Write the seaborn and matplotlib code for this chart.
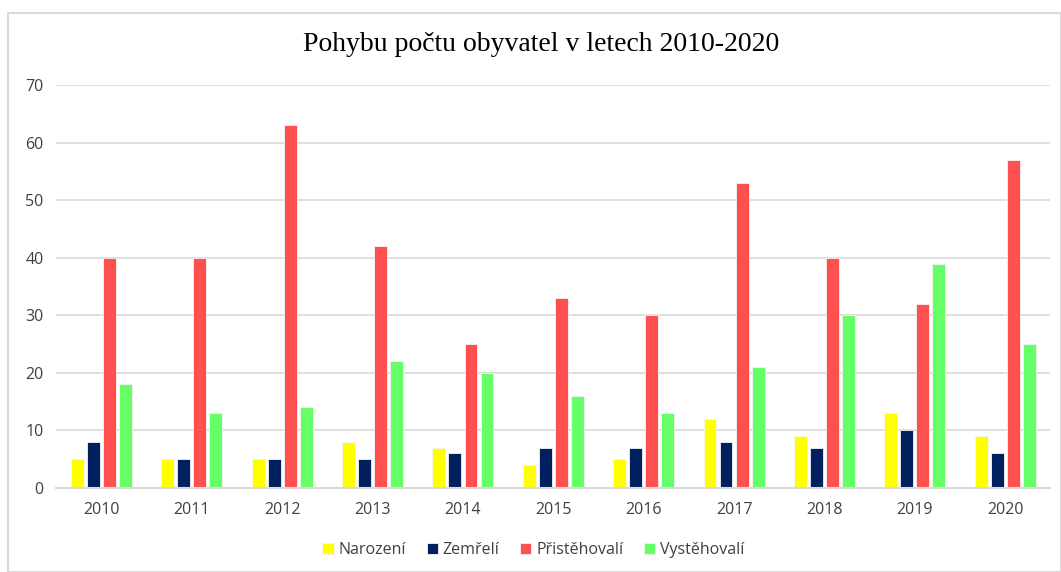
import pandas as pd
import matplotlib.pyplot as plt
import seaborn as sns
from matplotlib.patches import Rectangle

# data
years = ['2010', '2011', '2012', '2013', '2014', '2015', '2016', '2017', '2018', '2019', '2020']
narozeni = [5, 5, 5, 8, 7, 4, 5, 12, 9, 13, 9]
zemreli = [8, 5, 5, 5, 6, 7, 7, 8, 7, 10, 6]
pristehovali = [40, 40, 63, 42, 25, 33, 30, 53, 40, 32, 57]
vystehovali = [18, 13, 14, 22, 20, 16, 13, 21, 30, 39, 25]

series = ['Narození', 'Zemřelí', 'Přistěhovalí', 'Vystěhovalí']
colors = ['#FFFF00', '#002060', '#FF5050', '#66FF66']

df = pd.DataFrame({'Rok': years, series[0]: narozeni, series[1]: zemreli,
                   series[2]: pristehovali, series[3]: vystehovali})
long_df = df.melt(id_vars='Rok', var_name='Řada', value_name='Počet')

sns.set_style('white')
plt.rcParams['font.family'] = ['Open Sans', 'DejaVu Sans']

fig = plt.figure(figsize=(10.61, 5.72), dpi=100)
ax = fig.add_axes([0.053, 0.147, 0.937, 0.704])

# outer chart frame
fig.patches.append(Rectangle((8 / 1061, 0), 1 - 8 / 1061, 1 - 13 / 572, transform=fig.transFigure,
                             fill=False, edgecolor='#d9d9d9', linewidth=1.5))

sns.barplot(data=long_df, x='Rok', y='Počet', hue='Řada', palette=colors,
            width=0.71, gap=0.2, ax=ax, saturation=1, legend=True,
            linewidth=0.6, edgecolor='#f4f4f4')

ax.set_xlim(-0.5, 10.5)
ax.set_ylim(0, 70)
ax.set_yticks(range(0, 71, 10))
ax.yaxis.grid(True, color='#d9d9d9', linewidth=1.2)
ax.set_axisbelow(True)
for s in ['top', 'right', 'left']:
    ax.spines[s].set_visible(False)
ax.spines['bottom'].set_color('#d9d9d9')
ax.spines['bottom'].set_linewidth(1.5)
ax.tick_params(axis='both', length=0, labelsize=11.5, labelcolor='#404040')
ax.tick_params(axis='x', pad=10)
ax.tick_params(axis='y', pad=9)
ax.set_xlabel('')
ax.set_ylabel('')

fig.text(0.51, 0.922, 'Pohybu počtu obyvatel v letech 2010-2020', ha='center', va='center',
         fontsize=20, family='Liberation Serif', color='#000000')

ax.legend(loc='center', bbox_to_anchor=(0.48, -0.155), ncol=4, frameon=False,
          fontsize=11.5, handlelength=0.7, handleheight=0.7, handletextpad=0.3,
          columnspacing=1.3, labelcolor='#404040')

fig.savefig('out.png', dpi=100)
